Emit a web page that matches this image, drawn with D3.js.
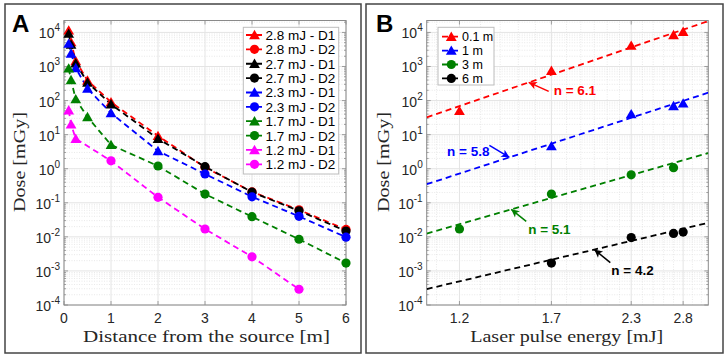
<!DOCTYPE html>
<html>
<head>
<meta charset="utf-8">
<script src="https://cdn.jsdelivr.net/npm/d3@7"></script>
<style>
  body { margin: 0; background: #fff; }
  svg { display: block; }
  text { font-family: "Liberation Sans", Arial, sans-serif; }
  .tl { font-size: 14px; fill: #262626; }
  .ttl { font-family: "Liberation Serif", "Times New Roman", serif; font-size: 17.5px; fill: #262626; }
</style>
</head>
<body>
<svg id="fig" width="728" height="358"></svg>
<script>
// ---------- panel A data ----------
const energiesA = ["2.8 mJ", "2.7 mJ", "2.3 mJ", "1.7 mJ", "1.2 mJ"];
const distD1 = [
    [0.1, 0.15, 0.25, 0.5, 1, 2],
    [0.1, 0.15, 0.25, 0.5, 1, 2],
    [0.1, 0.15, 0.25, 0.5, 1, 2],
    [0.1, 0.15, 0.25, 0.5, 1],
    [0.1, 0.15, 0.25]
];
const doseD1 = [
    [11500, 5200, 1450, 390, 90, 9.2],
    [9200, 4400, 1250, 340, 78, 7.6],
    [4700, 2400, 900, 225, 43, 3.3],
    [880, 400, 110, 33, 5],
    [52, 20, 7.6]
];
const distD2 = [
    [3, 4, 5, 6],
    [3, 4, 5, 6],
    [3, 4, 5, 6],
    [2, 3, 4, 5, 6],
    [1, 2, 3, 4, 5]
];
const doseD2 = [
    [1.1, 0.21, 0.062, 0.0165],
    [1.15, 0.205, 0.058, 0.0148],
    [0.7, 0.15, 0.04, 0.0098],
    [1.2, 0.18, 0.039, 0.0085, 0.0017],
    [1.7, 0.145, 0.017, 0.0026, 0.00029]
];
const distTicks = [0, 1, 2, 3, 4, 5, 6];

// ---------- panel B data ----------
const distancesB = ["0.1 m", "1 m", "3 m", "6 m"];
const energyB = [
    [1.2, 1.7, 2.3, 2.7, 2.8],
    [1.7, 2.3, 2.7, 2.8],
    [1.2, 1.7, 2.3, 2.7],
    [1.7, 2.3, 2.7, 2.8]
];
const doseB = [
    [50, 750, 4100, 8400, 10500],
    [4.6, 40, 69, 83],
    [0.017, 0.18, 0.66, 1.07],
    [0.0017, 0.0095, 0.0126, 0.0138]
];
// power law fits  D = a * E^n
const fitN = [6.1, 5.8, 5.1, 4.2];
const fitA = [22.6, 0.25, 0.0093, 0.00023];
const arrowTipE = [1.56, 1.45, 1.46, 2.0];
const energyTicks = [1.2, 1.7, 2.3, 2.8];

// styles
const colA = ["#ff0000", "#000000", "#0000ff", "#008000", "#ff00ff"];
const colB = ["#ff0000", "#0000ff", "#008000", "#000000"];
const markB = ["tri", "tri", "dot", "dot"];

const svg = d3.select("#fig");

// panel frames
svg.append("rect").attr("x", 5).attr("y", 4).attr("width", 356).attr("height", 349)
    .attr("fill", "none").attr("stroke", "#444").attr("stroke-width", 1.5);
svg.append("rect").attr("x", 366).attr("y", 4).attr("width", 357).attr("height", 349)
    .attr("fill", "none").attr("stroke", "#444").attr("stroke-width", 1.5);

const triPath = "M0,-5.2L5.4,4.2L-5.4,4.2Z";

function marker(g, kind, cx, cy, color) {
    if (kind == "tri") {
        g.append("path").attr("d", triPath)
            .attr("transform", "translate(" + cx + "," + cy + ")")
            .attr("fill", color);
    } else {
        g.append("circle").attr("cx", cx).attr("cy", cy).attr("r", 4.6)
            .attr("fill", color);
    }
}

// draws grid, box, ticks and labels of one log-y axes
function drawAxes(g, x, y, xTicks, xMinor, xFmt) {
    const [x0, x1] = x.range();
    const [y0, y1] = y.range();
    const yMax = y.domain()[1];

    const minorY = [], majorY = [];
    for (let e = -4; e <= 4; e++) {
        majorY.push(Math.pow(10, e));
        for (let k = 2; k <= 9; k++) {
            const v = k * Math.pow(10, e);
            if (v < yMax) minorY.push(v);
        }
    }

    // minor grid
    g.selectAll(null).data(minorY).enter().append("line")
        .attr("x1", x0).attr("x2", x1).attr("y1", d => y(d)).attr("y2", d => y(d))
        .attr("stroke", "#e0e0e0").attr("stroke-width", 0.7).attr("stroke-dasharray", "1,1.5");
    g.selectAll(null).data(xMinor).enter().append("line")
        .attr("y1", y0).attr("y2", y1).attr("x1", d => x(d)).attr("x2", d => x(d))
        .attr("stroke", "#e0e0e0").attr("stroke-width", 0.7).attr("stroke-dasharray", "1,1.5");
    // major grid
    g.selectAll(null).data(majorY).enter().append("line")
        .attr("x1", x0).attr("x2", x1).attr("y1", d => y(d)).attr("y2", d => y(d))
        .attr("stroke", "#e4e4e4").attr("stroke-width", 1);
    g.selectAll(null).data(xTicks).enter().append("line")
        .attr("y1", y0).attr("y2", y1).attr("x1", d => x(d)).attr("x2", d => x(d))
        .attr("stroke", "#e4e4e4").attr("stroke-width", 1);

    // ticks (inside, mirrored)
    const tk = g.append("g").attr("stroke", "#8a8a8a").attr("stroke-width", 0.8);
    majorY.forEach(v => {
        tk.append("line").attr("x1", x0).attr("x2", x0 + 4).attr("y1", y(v)).attr("y2", y(v));
        tk.append("line").attr("x1", x1).attr("x2", x1 - 4).attr("y1", y(v)).attr("y2", y(v));
    });
    minorY.forEach(v => {
        tk.append("line").attr("x1", x0).attr("x2", x0 + 2).attr("y1", y(v)).attr("y2", y(v));
        tk.append("line").attr("x1", x1).attr("x2", x1 - 2).attr("y1", y(v)).attr("y2", y(v));
    });
    xTicks.forEach(v => {
        tk.append("line").attr("y1", y0).attr("y2", y0 - 4).attr("x1", x(v)).attr("x2", x(v));
        tk.append("line").attr("y1", y1).attr("y2", y1 + 4).attr("x1", x(v)).attr("x2", x(v));
    });

    g.append("rect").attr("x", x0).attr("y", y1).attr("width", x1 - x0).attr("height", y0 - y1)
        .attr("fill", "none").attr("stroke", "#8a8a8a").attr("stroke-width", 1);

    // y tick labels 10^e
    majorY.forEach(v => {
        const e = Math.round(Math.log10(v));
        const t = g.append("text").attr("class", "tl").attr("text-anchor", "end")
            .attr("x", x0 - 4).attr("y", y(v) + 6);
        t.append("tspan").text("10");
        t.append("tspan").attr("dy", -7).style("font-size", "10px").text(e);
    });
    // x tick labels
    g.selectAll(null).data(xTicks).enter().append("text")
        .attr("class", "tl").attr("text-anchor", "middle")
        .attr("x", d => x(d)).attr("y", 323).text(xFmt);
}

function dashed(g, pts, color) {
    g.append("path")
        .attr("d", d3.line()(pts))
        .attr("fill", "none").attr("stroke", color)
        .attr("stroke-width", 1.8).attr("stroke-dasharray", "6,4");
}

// ================= panel A =================
const xA = d3.scaleLinear().domain([0, 6]).range([64, 346]);
const yA = d3.scaleLog().domain([1e-4, Math.pow(10, 4.35)]).range([305, 20.5]);
const gA = svg.append("g");
drawAxes(gA, xA, yA, distTicks, [], d => d);

energiesA.forEach((name, i) => {
    const pts = distD1[i].map((d, j) => [xA(d), yA(doseD1[i][j])])
        .concat(distD2[i].map((d, j) => [xA(d), yA(doseD2[i][j])]));
    dashed(gA, pts, colA[i]);
});
energiesA.forEach((name, i) => {
    distD1[i].forEach((d, j) => marker(gA, "tri", xA(d), yA(doseD1[i][j]), colA[i]));
    distD2[i].forEach((d, j) => marker(gA, "dot", xA(d), yA(doseD2[i][j]), colA[i]));
});

// legend A
const legA = svg.append("g");
legA.append("rect").attr("x", 243.3).attr("y", 27.3).attr("width", 95.4).attr("height", 146.7)
    .attr("fill", "#fff").attr("stroke", "#bdbdbd").attr("stroke-width", 1);
energiesA.forEach((name, i) => {
    ["D1", "D2"].forEach((det, k) => {
        const row = i * 2 + k;
        const ry = 35 + row * 14.37;
        legA.append("line").attr("x1", 245).attr("x2", 264).attr("y1", ry).attr("y2", ry)
            .attr("stroke", colA[i]).attr("stroke-width", 1.8).attr("stroke-dasharray", "6,4")
            .attr("stroke-dashoffset", -1);
        marker(legA, k == 0 ? "tri" : "dot", 254.5, ry, colA[i]);
        legA.append("text").attr("x", 265.5).attr("y", ry + 5)
            .style("font-size", "13.5px").attr("fill", "#000")
            .text(name + " - " + det);
    });
});

// titles A
svg.append("text").attr("class", "ttl").attr("text-anchor", "middle")
    .attr("x", 206.5).attr("y", 342).attr("textLength", 247).attr("lengthAdjust", "spacingAndGlyphs")
    .text("Distance from the source [m]");
svg.append("text").attr("class", "ttl").attr("text-anchor", "middle")
    .attr("transform", "translate(25,162) rotate(-90)")
    .attr("textLength", 100).attr("lengthAdjust", "spacingAndGlyphs")
    .text("Dose [mGy]");
svg.append("text").attr("x", 12).attr("y", 32).style("font-size", "24px")
    .style("font-weight", "bold").text("A");

// ================= panel B =================
const xB = d3.scaleLog().domain([1.06, 3.08]).range([426.7, 708.3]);
const yB = d3.scaleLog().domain([1e-4, Math.pow(10, 4.35)]).range([305, 20.5]);
const gB = svg.append("g");
const minorE = d3.range(1.1, 3.05, 0.1).filter(v => !energyTicks.some(t => Math.abs(t - v) < 1e-6));
drawAxes(gB, xB, yB, energyTicks, minorE, d => d.toFixed(1));

// clip for fit lines
svg.append("defs").append("clipPath").attr("id", "clipB")
    .append("rect").attr("x", 426.7).attr("y", 20.5).attr("width", 281.6).attr("height", 284.5);
const fits = gB.append("g").attr("clip-path", "url(#clipB)");
const [eLo, eHi] = xB.domain();
fitN.forEach((n, i) => {
    const f = e => fitA[i] * Math.pow(e, n);
    dashed(fits, [[xB(eLo), yB(f(eLo))], [xB(eHi), yB(f(eHi))]], colB[i]);
});
distancesB.forEach((name, i) => {
    energyB[i].forEach((e, j) => marker(gB, markB[i], xB(e), yB(doseB[i][j]), colB[i]));
});

// arrows + n labels (offsets in px from the arrow tip)
const tailOff = [[20, 9], [-20, -12], [15, 12], [16, 13]];
const textOff = [[25, 13], [-20, -1], [17, 25], [17, 25]];
const textAnchor = ["start", "end", "start", "start"];
fitN.forEach((n, i) => {
    const e = arrowTipE[i];
    const tx = xB(e), ty = yB(fitA[i] * Math.pow(e, n));
    const sx = tx + tailOff[i][0], sy = ty + tailOff[i][1];
    const ang = Math.atan2(ty - sy, tx - sx) * 180 / Math.PI;
    gB.append("line").attr("x1", sx).attr("y1", sy).attr("x2", tx).attr("y2", ty)
        .attr("stroke", colB[i]).attr("stroke-width", 1.5);
    gB.append("path").attr("d", "M0,0L-8,-4L-6,0L-8,4Z")
        .attr("transform", "translate(" + tx + "," + ty + ") rotate(" + ang + ")")
        .attr("fill", colB[i]);
    gB.append("text").attr("x", tx + textOff[i][0]).attr("y", ty + textOff[i][1])
        .attr("text-anchor", textAnchor[i])
        .style("font-size", "13.5px").style("font-weight", "bold").attr("fill", colB[i])
        .text("n = " + n.toFixed(1));
});

// legend B
const legB = svg.append("g");
legB.append("rect").attr("x", 438).attr("y", 27.3).attr("width", 56).attr("height", 57.7)
    .attr("fill", "#fff").attr("stroke", "#bdbdbd").attr("stroke-width", 1);
distancesB.forEach((name, i) => {
    const ry = 36.7 + i * 13.9;
    legB.append("line").attr("x1", 441).attr("x2", 461).attr("y1", ry).attr("y2", ry)
        .attr("stroke", colB[i]).attr("stroke-width", 1.8).attr("stroke-dasharray", "6,4")
        .attr("stroke-dashoffset", -1);
    marker(legB, markB[i], 451.3, ry, colB[i]);
    legB.append("text").attr("x", 462).attr("y", ry + 4.5)
        .style("font-size", "12.5px").attr("fill", "#000").text(name);
});

// titles B
svg.append("text").attr("class", "ttl").attr("text-anchor", "middle")
    .attr("x", 566.7).attr("y", 342).attr("textLength", 193).attr("lengthAdjust", "spacingAndGlyphs")
    .text("Laser pulse energy [mJ]");
svg.append("text").attr("class", "ttl").attr("text-anchor", "middle")
    .attr("transform", "translate(389,162) rotate(-90)")
    .attr("textLength", 100).attr("lengthAdjust", "spacingAndGlyphs")
    .text("Dose [mGy]");
svg.append("text").attr("x", 376).attr("y", 32).style("font-size", "24px")
    .style("font-weight", "bold").text("B");
</script>
</body>
</html>
